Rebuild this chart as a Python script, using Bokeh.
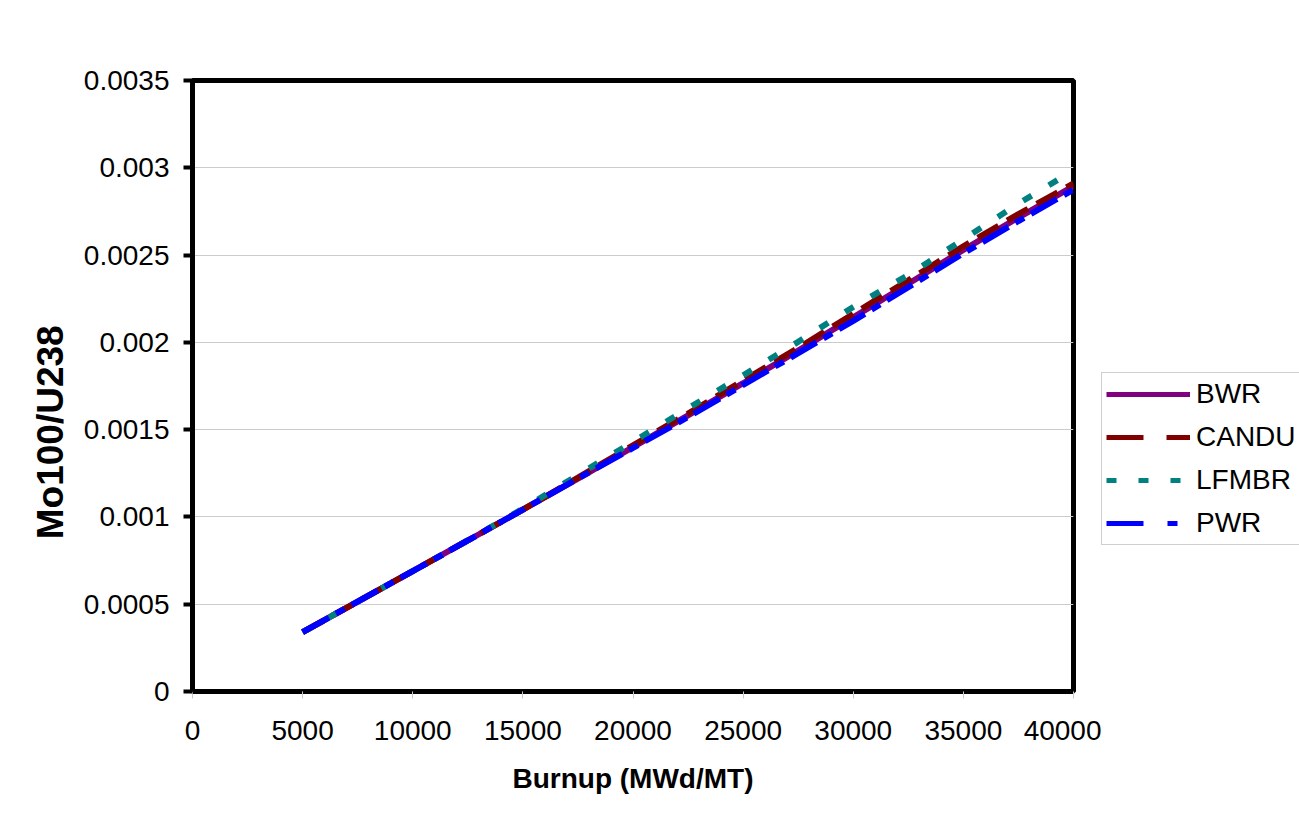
from bokeh.plotting import figure
from bokeh.models import Legend, LegendItem, FixedTicker, Range1d, ColumnDataSource
from bokeh.layouts import row
from bokeh.embed import file_html
from bokeh.resources import INLINE

# ---- data ----
burnup = [5000, 7500, 10000, 12500, 15000, 17500, 20000, 22500, 25000,
          27500, 30000, 32500, 35000, 37500, 40000]
bwr = [0.00034, 0.000515, 0.00069, 0.000865, 0.001042, 0.00122, 0.0014, 0.001582,
       0.001766, 0.001953, 0.002143, 0.002336, 0.00253, 0.002715, 0.002895]
candu = [0.00034, 0.000515, 0.00069, 0.000865, 0.001042, 0.001225, 0.00141, 0.001592,
         0.001781, 0.001968, 0.002163, 0.002356, 0.00255, 0.002735, 0.00291]
lfmbr = [0.00034, 0.000515, 0.00069, 0.000865, 0.001047, 0.00124, 0.00143, 0.001622,
         0.001811, 0.002003, 0.002203, 0.002386, 0.00259, 0.002795, 0.002985]
pwr = [0.00034, 0.000515, 0.00069, 0.000865, 0.001042, 0.00122, 0.001395, 0.001572,
       0.001756, 0.001938, 0.002123, 0.002316, 0.00251, 0.002695, 0.002875]

series_names = ["BWR", "CANDU", "LFMBR", "PWR"]

x_ticks = [0, 5000, 10000, 15000, 20000, 25000, 30000, 35000, 40000]
x_tick_labels = ["0", "5000", "10000", "15000", "20000", "25000", "30000", "35000", "40000"]
y_ticks = [0.0, 0.0005, 0.001, 0.0015, 0.002, 0.0025, 0.003, 0.0035]
y_tick_labels = ["0", "0.0005", "0.001", "0.0015", "0.002", "0.0025", "0.003", "0.0035"]

x_title = "Burnup (MWd/MT)"
y_title = "Mo100/U238"

FONT = "Liberation Sans"
H = 820

p = figure(width=1101, height=H, output_backend="svg", toolbar_location=None,
           x_range=Range1d(0, 40000), y_range=Range1d(0, 0.0035),
           min_border_left=192, min_border_right=28, min_border_top=80,
           min_border_bottom=129)
p.background_fill_color = "white"
p.border_fill_color = "white"
p.outline_line_color = "black"
p.outline_line_width = 5

# axes
p.xaxis.ticker = FixedTicker(ticks=x_ticks)
p.yaxis.ticker = FixedTicker(ticks=y_ticks)
p.xaxis.major_label_overrides = dict(zip(x_ticks, x_tick_labels))
p.yaxis.major_label_overrides = dict(zip(y_ticks, y_tick_labels))
for ax in (p.xaxis[0], p.yaxis[0]):
    ax.axis_line_color = "black"
    ax.axis_line_width = 5
    ax.minor_tick_line_color = None
    ax.major_label_text_font = FONT
    ax.major_label_text_font_size = "28px"
    ax.major_label_text_color = "black"
    ax.axis_label_text_font = FONT
    ax.axis_label_text_font_style = "bold"
    ax.axis_label_text_color = "black"

p.xaxis.axis_label = x_title
p.xaxis.axis_label_text_font_size = "28px"
p.xaxis.major_tick_line_color = "#c8c8c8"
p.xaxis.major_tick_line_width = 1
p.xaxis.major_tick_out = 7
p.xaxis.major_tick_in = 0
p.xaxis.major_label_standoff = 22
p.xaxis.axis_label_standoff = 20

# trailing no-break spaces shift the rotated title down, as in the reference
p.yaxis.axis_label = y_title + "\u00a0" * 9
p.yaxis.axis_label_text_font_size = "37px"
p.yaxis.major_tick_line_color = "black"
p.yaxis.major_tick_line_width = 4
p.yaxis.major_tick_out = 9
p.yaxis.major_tick_in = 0
p.yaxis.major_label_standoff = 14
p.yaxis.axis_label_standoff = 10

p.xgrid.grid_line_color = None
p.ygrid.grid_line_color = "#cccccc"
p.ygrid.grid_line_width = 1

# lines
src = ColumnDataSource(dict(x=burnup, bwr=bwr, candu=candu, lfmbr=lfmbr, pwr=pwr))
colors = ["#800080", "#800000", "#008080", "#0000ff"]
plot_dash = ["solid", "24 10", "10 20", "30 8 10 8"]
legend_dash = ["solid", "37 23", "10 22", "37 24 10 24"]
cols = ["bwr", "candu", "lfmbr", "pwr"]

# separate legend panel (same data, ranges chosen so only the legend shows)
q = figure(width=198, height=H, output_backend="svg", toolbar_location=None,
           x_range=Range1d(0, 1), y_range=Range1d(0, 1),
           x_axis_location=None, y_axis_location=None,
           min_border_left=0, min_border_right=0, min_border_top=0,
           min_border_bottom=0)
q.outline_line_color = None
q.grid.grid_line_color = None
q.background_fill_color = "white"
q.border_fill_color = "white"

items = []
for name, col, c, d, ld in zip(series_names, cols, colors, plot_dash, legend_dash):
    p.line("x", col, source=src, line_color=c, line_width=6, line_dash=d)
    r = q.line("x", col, source=src, line_color=c, line_width=5, line_dash=ld)
    items.append(LegendItem(label=name, renderers=[r]))

legend = Legend(items=items, location=(0, 146))
legend.border_line_color = "#a0a0a0"
legend.border_line_width = 1
legend.background_fill_color = "white"
legend.background_fill_alpha = 1
legend.label_text_font = FONT
legend.label_text_font_size = "28px"
legend.label_text_color = "black"
legend.glyph_width = 84
legend.glyph_height = 34
legend.label_height = 34
legend.spacing = 9
legend.padding = 4
legend.margin = 0
legend.label_standoff = 6
q.add_layout(legend, "center")

layout = row(p, q, spacing=0)
open("out.html", "w").write(file_html(layout, INLINE))
